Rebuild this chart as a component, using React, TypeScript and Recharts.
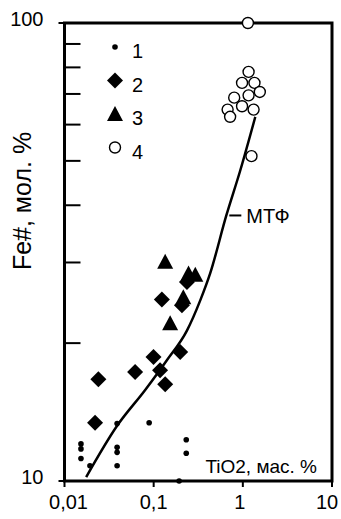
import { Legend, ReferenceArea, ReferenceLine, Scatter, ScatterChart, XAxis, YAxis } from "recharts";

const FONT = "'Liberation Sans', Arial, sans-serif";

const xTicks = [0.01, 0.1, 1, 10];
const yTicks = [10, 20, 30, 40, 50, 60, 70, 80, 90, 100];
const yLabelled = [10, 100];

// 1 - small dots
const series1 = [
  { x: 0.0153, y: 12.05 },
  { x: 0.0153, y: 11.75 },
  { x: 0.0153, y: 11.2 },
  { x: 0.0193, y: 10.8 },
  { x: 0.0389, y: 13.35 },
  { x: 0.0389, y: 11.85 },
  { x: 0.0389, y: 11.55 },
  { x: 0.0389, y: 10.8 },
  { x: 0.089, y: 13.4 },
  { x: 0.232, y: 12.3 },
  { x: 0.232, y: 11.5 },
  { x: 0.193, y: 10 },
];

// 2 - diamonds
const series2 = [
  { x: 0.024, y: 16.67 },
  { x: 0.022, y: 13.41 },
  { x: 0.062, y: 17.3 },
  { x: 0.0995, y: 18.65 },
  { x: 0.118, y: 17.45 },
  { x: 0.1346, y: 16.26 },
  { x: 0.1236, y: 24.9 },
  { x: 0.2074, y: 24.2 },
  { x: 0.1985, y: 19.13 },
  { x: 0.236, y: 27.2 },
];

// 3 - triangles
const series3 = [
  { x: 0.1346, y: 30.1 },
  { x: 0.153, y: 22.1 },
  { x: 0.215, y: 25.2 },
  { x: 0.246, y: 28.4 },
  { x: 0.293, y: 28.2 },
];

// 4 - open circles
const series4 = [
  { x: 1.14, y: 100 },
  { x: 1.16, y: 78.2 },
  { x: 0.98, y: 74.0 },
  { x: 1.35, y: 74.0 },
  { x: 0.8, y: 68.7 },
  { x: 1.16, y: 69.5 },
  { x: 1.55, y: 70.7 },
  { x: 0.98, y: 65.8 },
  { x: 0.675, y: 64.7 },
  { x: 1.32, y: 64.7 },
  { x: 0.72, y: 62.4 },
  { x: 1.25, y: 51.2 },
];

// МТФ trend
const mtfCurve = [
  { x: 0.0175, y: 10.2 },
  { x: 0.0389, y: 13.2 },
  { x: 0.0803, y: 15.8 },
  { x: 0.1406, y: 18.35 },
  { x: 0.236, y: 21.3 },
  { x: 0.333, y: 24.8 },
  { x: 0.43, y: 28.4 },
  { x: 0.653, y: 38.0 },
  { x: 0.937, y: 47.7 },
  { x: 1.38, y: 62.4 },
];
const mtfLeader = [
  { x: 0.705, y: 38 },
  { x: 0.962, y: 38 },
];

const legendLabels = ["1", "2", "3", "4"];

const Dot = ({ cx, cy }: any) => <circle cx={cx} cy={cy} r={2.8} fill="#000" />;
const Diamond = ({ cx, cy }: any) => (
  <path d={`M${cx},${cy - 8}L${cx + 8},${cy}L${cx},${cy + 8}L${cx - 8},${cy}Z`} fill="#000" />
);
const Triangle = ({ cx, cy }: any) => (
  <path d={`M${cx},${cy - 8}L${cx + 8},${cy + 7}L${cx - 8},${cy + 7}Z`} fill="#000" />
);
const Ring = ({ cx, cy }: any) => (
  <circle cx={cx} cy={cy} r={5.5} fill="#fff" stroke="#000" strokeWidth={1.4} />
);
const NoShape = () => <g />;

const shapes = [Dot, Diamond, Triangle, Ring];

const LegendBox = () => (
  <svg width={60} height={140} style={{ display: "block", overflow: "visible" }}>
    {legendLabels.map((label, i) => {
      const Shape = shapes[i];
      const cy = 17 + i * 33.5;
      return (
        <g key={label}>
          <Shape cx={15} cy={cy} />
          <text x={32} y={cy + 11} fontSize={20} fontFamily={FONT} fill="#000">
            {label}
          </text>
        </g>
      );
    })}
  </svg>
);

// labels in the scan sit a little off their ticks
const xLabelShift: Record<number, number> = { 0.01: 4, 0.1: 0, 1: -3, 10: -5 };

const XTick = ({ x, y, payload }: any) => (
  <text
    x={x + (xLabelShift[payload.value] ?? 0)}
    y={y}
    dy="0.71em"
    textAnchor="middle"
    fontSize={20}
    fontFamily={FONT}
    fill="#000"
  >
    {String(payload.value).replace(".", ",")}
  </text>
);

const YTick = ({ x, y, payload }: any) => {
  const major = yLabelled.includes(payload.value);
  return (
    <g>
      {major ? (
        <line x1={x - 6} x2={x} y1={y} y2={y} stroke="#000" strokeWidth={2} />
      ) : (
        <line x1={x} x2={x + 16} y1={y} y2={y} stroke="#000" strokeWidth={2} />
      )}
      {major && (
        <text x={x - 21} y={y - 4} dy="0.355em" textAnchor="end" fontSize={20} fontFamily={FONT} fill="#000">
          {payload.value}
        </text>
      )}
    </g>
  );
};

export default function App() {
  return (
    <div style={{ width: 341, height: 519, background: "#fff", fontFamily: FONT }}>
      <style>{"body{margin:0}"}</style>
      <ScatterChart width={341} height={519} margin={{ top: 23, right: 9, bottom: 0, left: 0 }}>
        <XAxis
          type="number"
          dataKey="x"
          scale="log"
          domain={[0.01, 10]}
          ticks={xTicks}
          interval={0}
          height={38}
          axisLine={false}
          tickLine={{ stroke: "#000", strokeWidth: 2 }}
          tickSize={6}
          tickMargin={8}
          tick={<XTick />}
          label={{
            content: () => (
              <text x={317} y={473} textAnchor="end" fontSize={19} fontFamily={FONT} fill="#000">
                TiO2, мас. %
              </text>
            ),
          }}
        />
        <YAxis
          type="number"
          dataKey="y"
          scale="log"
          domain={[10, 100]}
          ticks={yTicks}
          interval={0}
          width={64.5}
          axisLine={false}
          tickLine={false}
          tickSize={0}
          tickMargin={0}
          tick={<YTick />}
          label={{
            content: () => (
              <text
                x={31}
                y={201}
                textAnchor="middle"
                fontSize={25}
                fontFamily={FONT}
                fill="#000"
                transform="rotate(-90, 31, 201)"
              >
                Fe#, мол. %
              </text>
            ),
          }}
        />
        <ReferenceArea x1={0.01} x2={10} y1={10} y2={100} fill="none" stroke="#000" strokeWidth={3} />
        <ReferenceLine
          segment={mtfLeader}
          stroke="#000"
          strokeWidth={2}
          label={{ value: "МТФ", position: "right", offset: 5, fontSize: 20, fill: "#000", fontFamily: FONT }}
        />
        <Scatter
          data={mtfCurve}
          line={{ stroke: "#000", strokeWidth: 2.5 }}
          lineJointType="monotoneX"
          shape={<NoShape />}
          isAnimationActive={false}
        />
        <Scatter data={series1} shape={<Dot />} isAnimationActive={false} />
        <Scatter data={series2} shape={<Diamond />} isAnimationActive={false} />
        <Scatter data={series3} shape={<Triangle />} isAnimationActive={false} />
        <Scatter data={series4} shape={<Ring />} isAnimationActive={false} />
        <Legend
          layout="vertical"
          align="center"
          verticalAlign="middle"
          content={() => <LegendBox />}
          wrapperStyle={{ left: 100, top: 30, width: 60, height: 140 }}
        />
      </ScatterChart>
    </div>
  );
}
